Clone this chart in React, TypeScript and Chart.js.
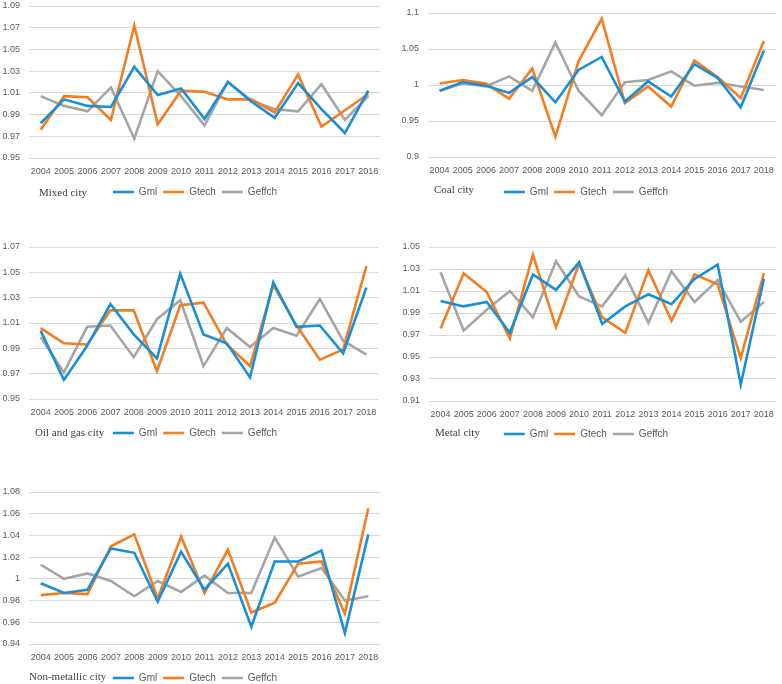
import React, { useEffect, useRef } from 'react';
import { Chart, registerables } from 'chart.js';

Chart.register(...registerables);

const years = ['2004', '2005', '2006', '2007', '2008', '2009', '2010', '2011', '2012', '2013', '2014', '2015', '2016', '2017', '2018'];
const seriesNames = ['Gml', 'Gtech', 'Geffch'];
const seriesColors = ['#1a8fd6', '#f57c1f', '#a5a5a5'];

// Mixed city
const mixedGml = [0.982, 1.004, 0.998, 0.997, 1.034, 1.008, 1.014, 0.986, 1.020, 1.002, 0.987, 1.019, 0.995, 0.973, 1.012];
const mixedGtech = [0.976, 1.007, 1.006, 0.985, 1.072, 0.981, 1.012, 1.011, 1.004, 1.004, 0.992, 1.027, 0.979, 0.994, 1.009];
const mixedGeffch = [1.007, 0.998, 0.993, 1.015, 0.968, 1.030, 1.007, 0.980, 1.020, 1.003, 0.995, 0.993, 1.018, 0.985, 1.007];
const mixedTicks = [0.95, 0.97, 0.99, 1.01, 1.03, 1.05, 1.07, 1.09];

// Coal city
const coalGml = [0.992, 1.004, 0.999, 0.989, 1.011, 0.976, 1.021, 1.039, 0.977, 1.005, 0.984, 1.029, 1.010, 0.969, 1.048];
const coalGtech = [1.002, 1.007, 1.002, 0.981, 1.023, 0.928, 1.033, 1.092, 0.975, 0.998, 0.970, 1.034, 1.011, 0.982, 1.061];
const coalGeffch = [0.992, 1.002, 0.998, 1.012, 0.992, 1.059, 0.992, 0.958, 1.004, 1.007, 1.019, 0.999, 1.003, 0.998, 0.993];
const coalTicks = [0.9, 0.95, 1, 1.05, 1.1];

// Oil and gas city
const oilGml = [1.004, 0.965, 0.992, 1.025, 1.001, 0.982, 1.049, 1.001, 0.994, 0.967, 1.042, 1.007, 1.008, 0.986, 1.038];
const oilGtech = [1.006, 0.994, 0.993, 1.020, 1.020, 0.972, 1.024, 1.026, 0.993, 0.976, 1.040, 1.008, 0.981, 0.989, 1.055];
const oilGeffch = [0.999, 0.971, 1.007, 1.008, 0.983, 1.013, 1.028, 0.976, 1.006, 0.991, 1.006, 1.000, 1.029, 0.996, 0.985];
const oilTicks = [0.95, 0.97, 0.99, 1.01, 1.03, 1.05, 1.07];

// Metal city
const metalGml = [1.001, 0.996, 1.000, 0.972, 1.025, 1.011, 1.036, 0.980, 0.996, 1.007, 0.998, 1.021, 1.034, 0.925, 1.021];
const metalGtech = [0.976, 1.026, 1.009, 0.967, 1.043, 0.977, 1.035, 0.986, 0.972, 1.029, 0.983, 1.025, 1.016, 0.949, 1.026];
const metalGeffch = [1.027, 0.974, 0.993, 1.010, 0.986, 1.037, 1.005, 0.996, 1.024, 0.981, 1.028, 1.000, 1.020, 0.982, 1.000];
const metalTicks = [0.91, 0.93, 0.95, 0.97, 0.99, 1.01, 1.03, 1.05];

// Non-metallic city
const nonmetGml = [0.996, 0.987, 0.990, 1.028, 1.024, 0.979, 1.025, 0.990, 1.014, 0.956, 1.016, 1.016, 1.026, 0.950, 1.041];
const nonmetGtech = [0.985, 0.987, 0.986, 1.030, 1.041, 0.982, 1.039, 0.987, 1.027, 0.969, 0.978, 1.014, 1.016, 0.968, 1.065];
const nonmetGeffch = [1.013, 1.000, 1.005, 0.998, 0.984, 0.998, 0.988, 1.003, 0.987, 0.987, 1.038, 1.002, 1.010, 0.980, 0.984];
const nonmetTicks = [0.94, 0.96, 0.98, 1, 1.02, 1.04, 1.06, 1.08];

const cityNames = ['Mixed city', 'Coal city', 'Oil and gas city', 'Metal city', 'Non-metallic city'];

const TICK_FONT = "'Liberation Sans', Arial, sans-serif";
const TEXT_COLOR = '#595959';

type PanelCfg = {
  name: string;
  series: number[][];
  ticks: number[];
  left: number; top: number; w: number;
  plotTop: number; plotBottom: number; plotLeft: number; plotRight: number;
  legendY: number; cityX: number; cityY: number;
};

const panels: PanelCfg[] = [
  { name: cityNames[0], series: [mixedGml, mixedGtech, mixedGeffch], ticks: mixedTicks,
    left: 0, top: 0, w: 390, plotTop: 6, plotBottom: 158, plotLeft: 29, plotRight: 380, legendY: 192, cityX: 39, cityY: 192 },
  { name: cityNames[1], series: [coalGml, coalGtech, coalGeffch], ticks: coalTicks,
    left: 390, top: 0, w: 392, plotTop: 13, plotBottom: 157, plotLeft: 38, plotRight: 388, legendY: 192, cityX: 44, cityY: 189 },
  { name: cityNames[2], series: [oilGml, oilGtech, oilGeffch], ticks: oilTicks,
    left: 0, top: 230, w: 390, plotTop: 17, plotBottom: 169, plotLeft: 29, plotRight: 378, legendY: 203, cityX: 35, cityY: 202 },
  { name: cityNames[3], series: [metalGml, metalGtech, metalGeffch], ticks: metalTicks,
    left: 390, top: 230, w: 392, plotTop: 17, plotBottom: 171, plotLeft: 39, plotRight: 388, legendY: 204, cityX: 45, cityY: 202 },
  { name: cityNames[4], series: [nonmetGml, nonmetGtech, nonmetGeffch], ticks: nonmetTicks,
    left: 0, top: 460, w: 390, plotTop: 32, plotBottom: 184, plotLeft: 29, plotRight: 380, legendY: 218, cityX: 29, cityY: 216 },
];

const LEGEND_FONT = 10;
const LEGEND_PAD = 6;

function Panel({ cfg }: { cfg: PanelCfg }) {
  const ref = useRef<HTMLCanvasElement>(null);
  const canvasH = cfg.legendY + 10 + LEGEND_FONT / 2;
  const legendH = LEGEND_FONT + LEGEND_PAD + 10;
  const xH = canvasH - legendH - cfg.plotBottom;
  const rightW = cfg.w - cfg.plotRight;

  useEffect(() => {
    if (!ref.current) return;
    const chart = new Chart(ref.current, {
      type: 'line',
      data: {
        labels: years,
        datasets: cfg.series.map((d, i) => ({
          label: seriesNames[i],
          data: d,
          borderColor: seriesColors[i],
          backgroundColor: seriesColors[i],
          borderWidth: 2.6,
          pointRadius: 0,
          pointHoverRadius: 0,
          tension: 0,
          fill: false,
          yAxisID: 'y',
        })),
      },
      options: {
        animation: false,
        responsive: false,
        maintainAspectRatio: false,
        events: [],
        layout: { padding: { top: cfg.plotTop, right: 0, left: 0, bottom: 0 } },
        plugins: {
          tooltip: { enabled: false },
          legend: {
            position: 'bottom',
            labels: {
              usePointStyle: true,
              pointStyle: 'line',
              pointStyleWidth: 21,
              padding: LEGEND_PAD,
              color: TEXT_COLOR,
              font: { family: "'Liberation Sans', Arial, sans-serif", size: LEGEND_FONT },
            },
          },
        },
        scales: {
          x: {
            offset: true,
            grid: { display: false, drawTicks: false },
            border: { display: false },
            ticks: {
              autoSkip: false,
              maxRotation: 0,
              minRotation: 0,
              padding: 8,
              color: TEXT_COLOR,
              font: { family: TICK_FONT, size: 9 },
            },
            afterFit: (s: any) => { s.height = xH; },
          },
          y: {
            min: cfg.ticks[0],
            max: cfg.ticks[cfg.ticks.length - 1],
            grid: { color: '#d9d9d9', drawTicks: false, lineWidth: 1 },
            border: { display: false },
            ticks: {
              padding: 9,
              color: TEXT_COLOR,
              font: { family: TICK_FONT, size: 9 },
              callback: (v: any) => String(Math.round(Number(v) * 100) / 100),
            },
            afterBuildTicks: (s: any) => { s.ticks = cfg.ticks.map((v) => ({ value: v })); },
            afterFit: (s: any) => {
              s.width = cfg.plotLeft;
              s.paddingTop = 0;
              s.paddingBottom = 0;
            },
          },
          yRight: {
            position: 'right',
            min: cfg.ticks[0],
            max: cfg.ticks[cfg.ticks.length - 1],
            grid: { display: false, drawTicks: false, drawOnChartArea: false },
            border: { display: false },
            ticks: { display: false },
            afterFit: (s: any) => {
              s.width = rightW;
              s.paddingTop = 0;
              s.paddingBottom = 0;
            },
          },
        },
      } as any,
    });
    return () => chart.destroy();
  }, []);

  return (
    <>
      <canvas
        ref={ref}
        width={cfg.w}
        height={canvasH}
        style={{ position: 'absolute', left: cfg.left, top: cfg.top, width: cfg.w, height: canvasH }}
      />
      <div
        style={{
          position: 'absolute',
          left: cfg.left + cfg.cityX,
          top: cfg.top + cfg.cityY - 8,
          height: 16,
          lineHeight: '16px',
          fontFamily: "'Liberation Serif', 'Times New Roman', serif",
          fontSize: 11,
          color: '#404040',
          whiteSpace: 'nowrap',
        }}
      >
        {cfg.name}
      </div>
    </>
  );
}

export default function App() {
  return (
    <div
      style={{
        position: 'absolute',
        left: 0,
        top: 0,
        width: 782,
        height: 684,
        overflow: 'hidden',
        background: '#ffffff',
      }}
    >
      {panels.map((p) => (
        <Panel key={p.name} cfg={p} />
      ))}
    </div>
  );
}
